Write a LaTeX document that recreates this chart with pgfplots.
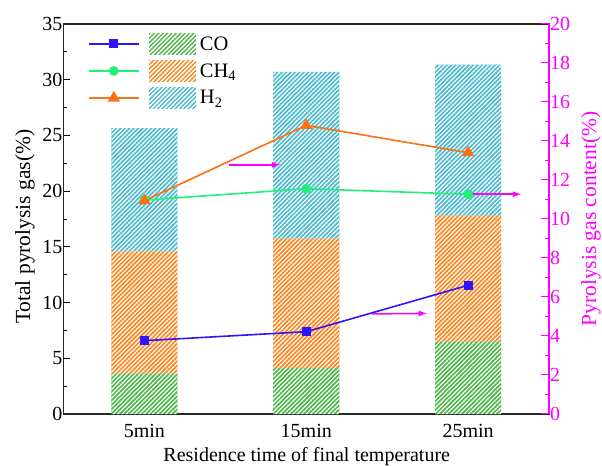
\documentclass[border=0pt]{standalone}
\usepackage{fontspec}
\setmainfont{Liberation Serif}
\usepackage{pgfplots}
\pgfplotsset{compat=1.18}
\usetikzlibrary{patterns.meta,arrows.meta}
\definecolor{cogreen}{RGB}{78,182,74}
\definecolor{chorange}{RGB}{255,134,28}
\definecolor{hcyan}{RGB}{76,186,206}
\definecolor{lblue}{RGB}{48,20,255}
\definecolor{lgreen}{RGB}{30,240,120}
\definecolor{lorange}{RGB}{255,112,16}
\definecolor{mag}{RGB}{255,0,255}
\tikzset{hatch/.style={fill=#1, draw=none, postaction={pattern={Lines[angle=45,distance=3.1bp,line width=1.2bp]}, pattern color=white}}}
\begin{document}
\begin{tikzpicture}
\useasboundingbox (-63.5bp,-52bp) rectangle (538.5bp,414bp);
\begin{axis}[
  at={(0,0)}, anchor=south west, scale only axis, width=485.5bp, height=390bp,
  xmin=-0.5, xmax=2.5, ymin=0, ymax=35, enlargelimits=false,
  ybar stacked, bar width=66bp,
  xtick={0,1,2}, xticklabels={5min,15min,25min}, major x tick style={draw=none},
  ytick={0,5,...,35}, minor y tick num=1, ytick pos=left,
  tick align=inside, major tick length=6bp, minor tick length=3.5bp,
  axis line style={line width=1.3bp, black!85}, tick style={line width=1bp, black},
  /pgf/number format/assume math mode=true,
  tick label style={font=\fontsize{20bp}{24bp}\selectfont},
  xticklabel style={yshift=-6.3bp},
  yticklabel style={xshift=2.5bp},
  xlabel={Residence time of final temperature},
  xlabel style={at={(axis description cs:0.501,-0.123)}, anchor=base, font=\fontsize{20bp}{24bp}\selectfont},
  ylabel={Total pyrolysis gas(\%)},
  ylabel style={at={(axis description cs:-0.0793,0.48)}, anchor=center, font=\fontsize{21.5bp}{26bp}\selectfont},
  legend cell align=left,
  legend style={at={(axis description cs:0.176,0.977)}, anchor=north west, draw=none, fill=none,
    inner sep=0pt, outer sep=0pt, row sep=5bp, column sep=3.5bp, nodes={inner sep=0pt},
    font=\fontsize{20.5bp}{24bp}\selectfont},
]
\addplot[hatch=cogreen, legend image code/.code={\path[hatch=cogreen] (0bp,-11bp) rectangle (47.5bp,11bp);}]
  coordinates {(0,3.65) (1,4.15) (2,6.5)};
\addlegendentry{CO}
\addplot[hatch=chorange, legend image code/.code={\path[hatch=chorange] (0bp,-11bp) rectangle (47.5bp,11bp);}]
  coordinates {(0,10.95) (1,11.6) (2,11.3)};
\addlegendentry{CH\textsubscript{4}}
\addplot[hatch=hcyan, legend image code/.code={\path[hatch=hcyan] (0bp,-11bp) rectangle (47.5bp,11bp);}]
  coordinates {(0,11.05) (1,14.95) (2,13.55)};
\addlegendentry{H\textsubscript{2}}
\end{axis}
\begin{axis}[
  at={(0,0)}, anchor=south west, scale only axis, width=485.5bp, height=390bp,
  xmin=-0.5, xmax=2.5, ymin=0, ymax=20, enlargelimits=false, clip=false,
  axis x line=none, axis y line*=right,
  ytick={0,2,...,20}, minor y tick num=1,
  tick align=inside, major tick length=8bp, minor tick length=4.5bp,
  y axis line style={mag, line width=1.3bp}, ytick style={mag, line width=1bp}, minor y tick style={mag, line width=1bp},
  /pgf/number format/assume math mode=true,
  tick label style={font=\fontsize{20bp}{24bp}\selectfont},
  yticklabel style={mag, xshift=-2.5bp},
  ylabel={Pyrolysis gas content(\%)},
  ylabel style={at={(axis description cs:1.0865,0.5)}, anchor=center, mag, font=\fontsize{21.5bp}{26bp}\selectfont},
  legend cell align=left,
  legend style={at={(axis description cs:0.0505,0.977)}, anchor=north west, draw=none, fill=none,
    inner sep=0pt, outer sep=0pt, row sep=5bp, column sep=0pt, nodes={inner sep=0pt},
    font=\fontsize{20.5bp}{24bp}\selectfont},
  legend image code/.code={
    \pgfpathrectangle{\pgfpoint{0bp}{-11bp}}{\pgfpoint{50bp}{22bp}}\pgfusepath{discard}
    \draw[#1, mark indices={2}] plot coordinates {(0bp,0bp) (25bp,0bp) (50bp,0bp)};},
]
\addplot[lblue, line width=1.6bp, mark=square*, mark size=3.7bp] coordinates {(0,3.76) (1,4.22) (2,6.6)};
\addlegendentry{\mbox{}}
\addplot[lgreen, line width=1.6bp, mark=*, mark size=4bp] coordinates {(0,10.97) (1,11.55) (2,11.27)};
\addlegendentry{\mbox{}}
\addplot[lorange, line width=1.6bp, mark=triangle*, mark size=5.5bp] coordinates {(0,10.94) (1,14.8) (2,13.4)};
\addlegendentry{\mbox{}}
\draw[mag, line width=1.5bp, -{Latex[length=9bp,width=6bp]}] (axis cs:0.52,12.78) -- (axis cs:0.843,12.78);
\draw[mag, line width=1.5bp, -{Latex[length=9bp,width=6bp]}] (axis cs:1.404,5.13) -- (axis cs:1.75,5.16);
\draw[mag, line width=1.5bp, -{Latex[length=9bp,width=6bp]}] (axis cs:2.0,11.27) -- (axis cs:2.332,11.27);
\end{axis}
\end{tikzpicture}
\end{document}
